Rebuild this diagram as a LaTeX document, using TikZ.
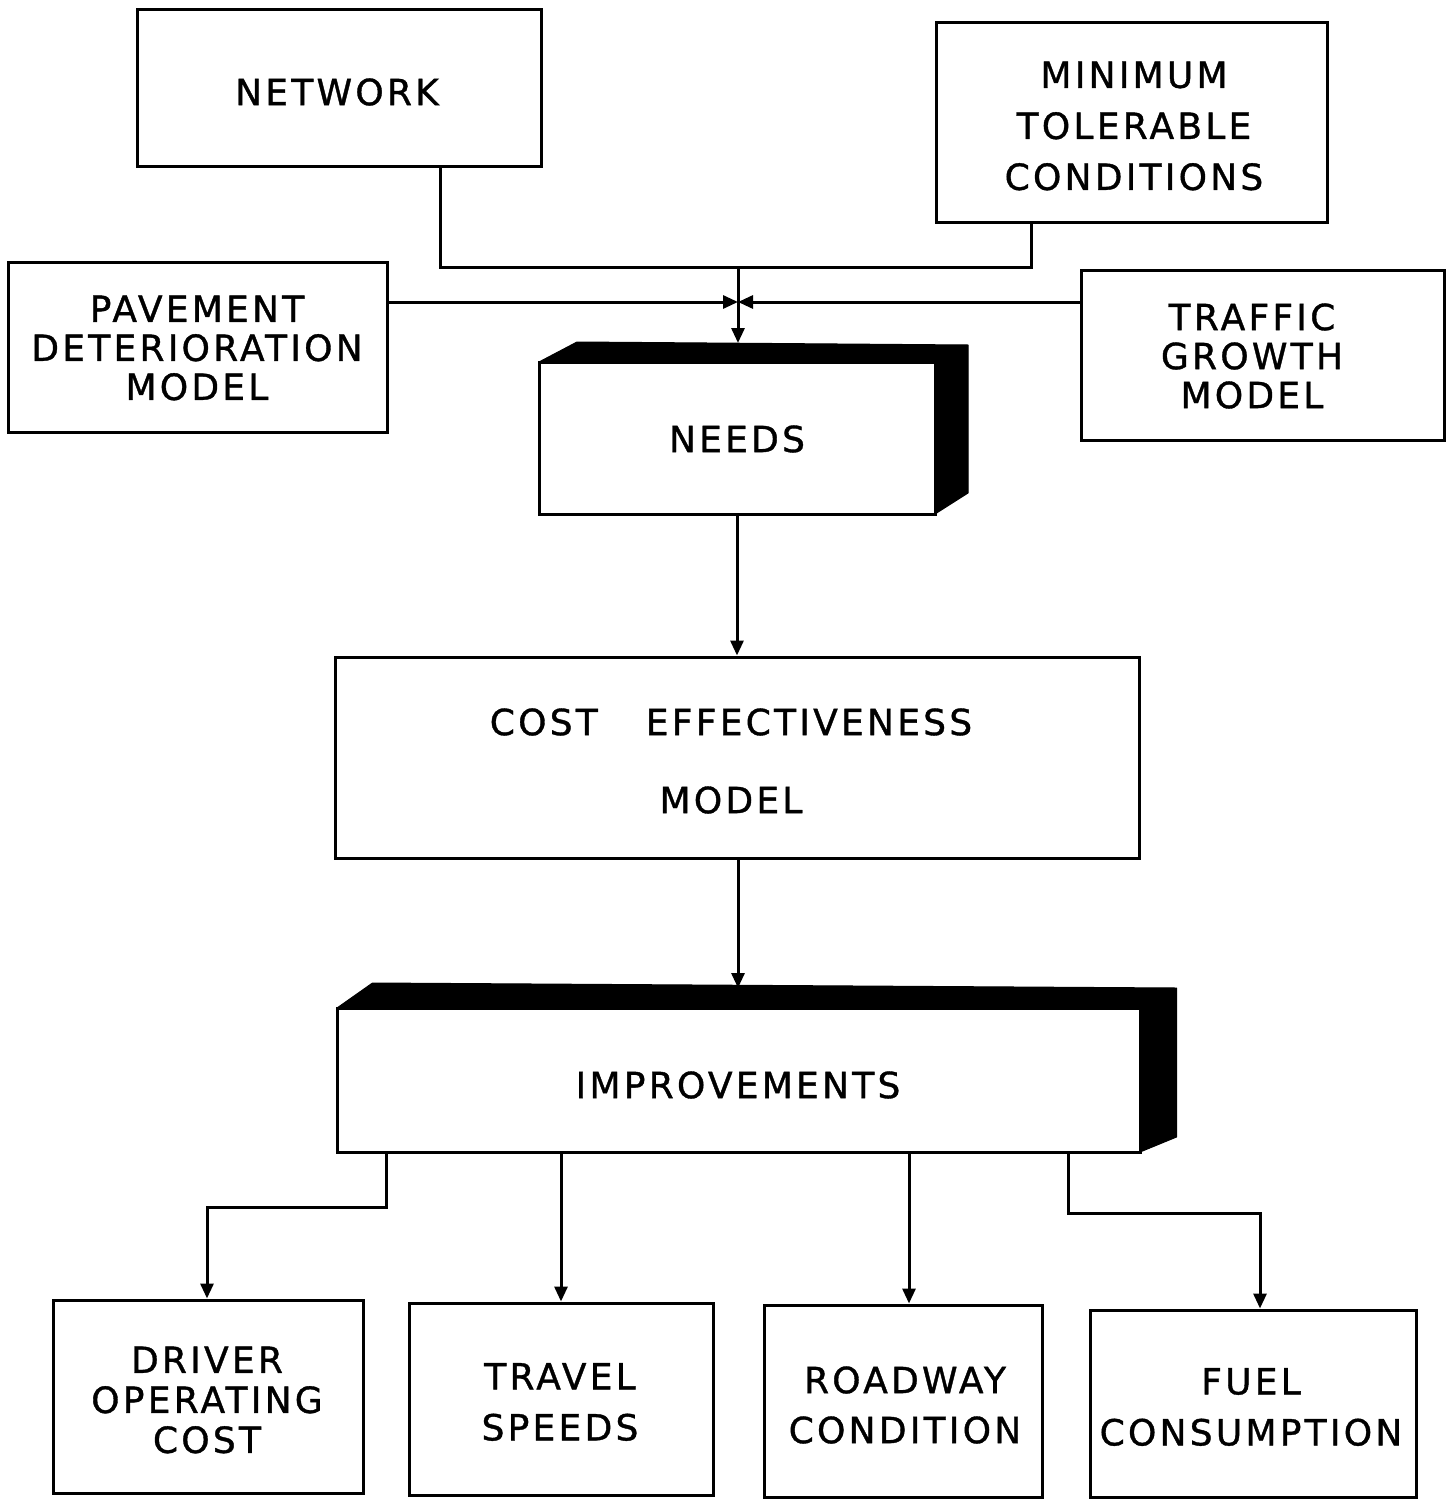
\documentclass[tikz,border=0pt]{standalone}
\usepackage{fontspec}
\setmainfont{DejaVu Sans}[LetterSpace=9,FakeBold=1]
\usetikzlibrary{arrows.meta,calc}

\begin{document}
\begin{tikzpicture}[x=1pt,y=-1pt,
  line width=3pt,
  box/.style={draw, line width=3pt, fill=white, inner sep=0pt},
  lbl/.style={inner sep=0pt, align=center, font=\fontsize{36}{#1}\selectfont},
  lbl/.default=50,
  arr/.style={-{Triangle[length=15pt,width=13pt]}},
  shadow/.style={fill=black, draw=black, line width=1pt, line join=round}
]
\useasboundingbox (0,0) rectangle (1455,1501);

% input boxes
\node[box, minimum width=404, minimum height=156] (net) at (339,88) {};
\node[lbl] (netT) at (337,92) {NETWORK};
\node[box, minimum width=391, minimum height=199] (mtc) at (1131.5,122.5) {};
\node[lbl=51] (mtcT) at (1134,126) {MINIMUM\\TOLERABLE\\CONDITIONS};
\node[box, minimum width=379, minimum height=170] (pav) at (197.5,347) {};
\node[lbl=39] (pavT) at (197,348) {PAVEMENT\\DETERIORATION\\MODEL};
\node[box, minimum width=363, minimum height=170] (traf) at (1262.5,355) {};
\node[lbl=39] (trafT) at (1252,356) {TRAFFIC\\GROWTH\\MODEL};

% NEEDS block with its dark top and side
\coordinate (needsC) at (737,438);
\fill[shadow] ($(needsC)+(-198,-76)$) -- ($(needsC)+(-160,-96)$) -- ($(needsC)+(231,-93)$)
  -- ($(needsC)+(231,55)$) -- ($(needsC)+(198,76)$) -- cycle;
\node[box, minimum width=396, minimum height=152] (needs) at (needsC) {};
\node[lbl] (needsT) at (737,439) {NEEDS};

% cost effectiveness model
\node[box, minimum width=804, minimum height=201] (ce) at (737,757.5) {};
\node[lbl=78] (ceT) at (731,761) {COST\hspace{48pt}EFFECTIVENESS\\MODEL};

% IMPROVEMENTS block with its dark top and side
\coordinate (impC) at (738.5,1080);
\fill[shadow] ($(impC)+(-401.5,-72)$) -- ($(impC)+(-366,-97)$) -- ($(impC)+(438,-92)$)
  -- ($(impC)+(438,57)$) -- ($(impC)+(401.5,72)$) -- cycle;
\node[box, minimum width=803, minimum height=144] (imp) at (impC) {};
\node[lbl] (impT) at (738,1085) {IMPROVEMENTS};

% result boxes
\node[box, minimum width=310, minimum height=193] (drv) at (208,1396.5) {};
\node[lbl=40] (drvT) at (207,1400) {DRIVER\\OPERATING\\COST};
\node[box, minimum width=304, minimum height=192] (trv) at (561,1399) {};
\node[lbl=51] (trvT) at (560,1402) {TRAVEL\\SPEEDS};
\node[box, minimum width=278, minimum height=192] (road) at (903,1401) {};
\node[lbl=50] (roadT) at (905,1405) {ROADWAY\\CONDITION};
\node[box, minimum width=326, minimum height=187] (fuel) at (1253,1403.5) {};
\node[lbl=51] (fuelT) at (1251,1407) {FUEL\\CONSUMPTION};

% top collector and feeds into NEEDS
\coordinate (nd) at (440,267);
\coordinate (md) at (1031,267);
\coordinate (jn) at (738,267);
\coordinate (hx) at (738,302);
\coordinate (needsTop) at (738,343);
\draw (net.south -| nd) -- (nd) -- (md) -- (mtc.south -| md);
\draw[arr] (jn) -- (needsTop);
\draw[arr] (pav.east |- hx) -- (hx);
\draw[arr] (traf.west |- hx) -- (hx);

% main chain
\coordinate (impTop) at (738,988);
\draw[arr] (needs.south) -- (ce.north);
\draw[arr] (ce.south -| impTop) -- (impTop);

% outputs of IMPROVEMENTS
\coordinate (b1) at (386,1207);
\coordinate (b1e) at (207,1207);
\coordinate (b3) at (909,1305);
\coordinate (b4) at (1068,1213);
\coordinate (b4e) at (1260,1213);
\draw[arr] (imp.south -| b1) -- (b1) -- (b1e) -- (drv.north -| b1e);
\draw[arr] (imp.south -| trv.north) -- (trv.north);
\draw[arr] (imp.south -| b3) -- (road.north -| b3);
\draw[arr] (imp.south -| b4) -- (b4) -- (b4e) -- (fuel.north -| b4e);
\end{tikzpicture}
\end{document}
